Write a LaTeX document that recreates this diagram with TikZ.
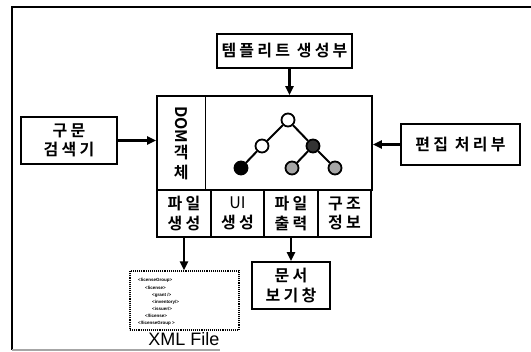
\documentclass[tikz,border=0pt]{standalone}
\usepackage{fontspec}
\setmainfont{Noto Sans CJK KR}[BoldFont={Noto Sans CJK KR Bold}]
\newfontfamily\lat{Liberation Sans}
\usetikzlibrary{arrows.meta}
\begin{document}
\begin{tikzpicture}[x=1pt,y=-1pt,
  box/.style={draw,line width=1.7pt,inner sep=0pt,align=center,font=\bfseries\fontsize{16}{19.5}\selectfont\addfontfeatures{LetterSpace=20}},
  arr/.style={line width=2.2pt,-{Triangle[length=9pt,width=8pt]}},
  tn/.style={circle,draw,line width=1.8pt,minimum size=13pt,inner sep=0pt},
  tedge/.style={line width=2pt},
  xmlt/.style={font=\lat\bfseries\fontsize{4.5}{5}\selectfont,anchor=west,inner sep=0pt}]
\useasboundingbox (0,0) rectangle (531,352);
% outer frame
\draw[line width=1.4pt] (12,350) -- (12,7) -- (531,7);
\draw[line width=1.2pt,black!35] (12,350) -- (220,350);
% boxes
\node[box,minimum width=135pt,minimum height=34pt] (tmpl) at (284.5,51) {템플리트 생성부};
\node[box,minimum width=215pt,minimum height=94pt] (main) at (264.5,143) {};
\node[box,minimum width=48.5pt,minimum height=94pt] (dom) at (181.25,143) {\rotatebox{-90}{\addfontfeatures{LetterSpace=0}DOM}\\[1pt]객\\체};
\node[box,minimum width=54pt,minimum height=47pt] (b1) at (184,213.5) {파일\\생성};
\node[box,minimum width=53pt,minimum height=47pt] (b2) at (237.5,213.5) {{\mdseries\addfontfeatures{LetterSpace=0}UI}\\생성};
\node[box,minimum width=54pt,minimum height=47pt] (b3) at (291,213.5) {파일\\출력};
\node[box,minimum width=53pt,minimum height=47pt] (b4) at (344.5,213.5) {구조\\정보};
\node[box,minimum width=96pt,minimum height=47pt] (left) at (69,140.5) {구문\\검색기};
\node[box,minimum width=119pt,minimum height=41pt] (right) at (460.5,144.5) {편집 처리부};
\node[draw,densely dotted,line width=1.1pt,minimum width=109pt,minimum height=59pt] (xml) at (184.5,300.5) {};
\node[box,minimum width=78pt,minimum height=47pt] (view) at (291,285.5) {문서\\보기창};
\node[font=\lat\fontsize{18}{20}\selectfont,inner sep=0pt] (xmllbl) at (184,339.5) {XML File};
% xml content
\node[xmlt] (x1) at (138,280) {<licenseGroup>};
\node[xmlt] (x2) at (145,287.5) {<license>};
\node[xmlt] (x3) at (152,295) {<grant />};
\node[xmlt] (x4) at (152,302) {<inventory/>};
\node[xmlt] (x5) at (152,309) {<issuer/>};
\node[xmlt] (x6) at (145,316) {</license>};
\node[xmlt] (x7) at (138,323) {</licenseGroup >};
% tree
\node[tn,fill=white] (n1) at (288,120) {};
\node[tn,fill=white] (n2) at (262,146) {};
\node[tn,fill=black!80] (n3) at (313,146) {};
\node[tn,fill=black] (n4) at (241,168) {};
\node[tn,fill=black!35] (n5) at (292,168) {};
\node[tn,fill=black!35] (n6) at (335,168) {};
\draw[tedge] (n1) -- (n2);
\draw[tedge] (n1) -- (n3);
\draw[tedge] (n2) -- (n4);
\draw[tedge] (n3) -- (n5);
\draw[tedge] (n3) -- (n6);
% arrows
\draw[arr] ([xshift=5pt]tmpl.south) -- ([xshift=5pt]tmpl.south |- main.north);
\draw[arr] (left.east) -- (left.east -| main.west);
\draw[arr] (right.west) -- (right.west -| main.east);
\draw[arr] (b1.south) -- (b1.south |- xml.north);
\draw[arr] (b3.south) -- (view.north);
\end{tikzpicture}
\end{document}
